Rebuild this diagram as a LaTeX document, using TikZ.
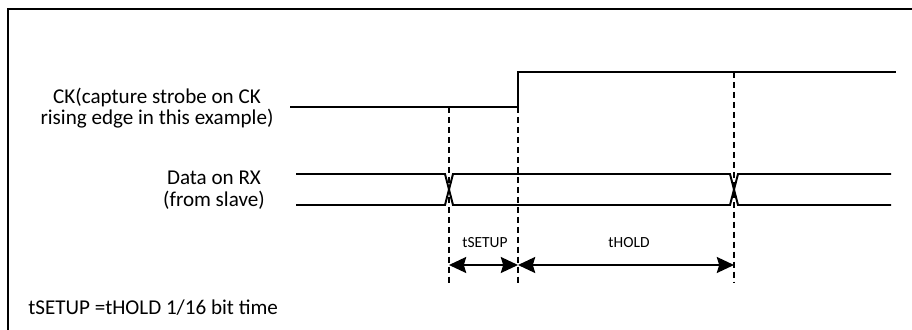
\documentclass[tikz,border=0pt]{standalone}
\usepackage{fontspec}
\setmainfont{Carlito}
\usetikzlibrary{arrows.meta}
\begin{document}
\begin{tikzpicture}[>={Stealth[length=4.3mm,width=4mm,inset=0.6mm]},
	  sig/.style={line width=1.4pt},
	  guide/.style={line width=1.2pt,dash pattern=on 4.3pt off 2.8pt},
	  txt/.style={font=\fontsize{15}{15.3}\selectfont,align=center,inner sep=0pt},
	  small/.style={font=\fontsize{11}{13}\selectfont,inner sep=0pt}]
	  \useasboundingbox (0,0) rectangle (22.8,-8.225);
	  \draw[line width=1.3pt] (0.2,-8.4) -- (0.2,-0.225) -- (23,-0.225);
	  % labels
	  \node[txt] (ck) at (3.925,-2.7) {CK(capture strobe on CK\\rising edge in this example)};
	  \node[txt] (rx) at (5.35,-4.75) {Data on RX\\(from slave)};
	  \node[txt,anchor=west] (note) at (0.7,-7.7) {tSETUP =tHOLD 1/16 bit time};
	  % clock
	  \coordinate (c0) at (7.25,-2.675);
	  \coordinate (c1) at (12.95,-2.675);
	  \coordinate (c2) at (12.95,-1.8);
	  \coordinate (c3) at (22.4,-1.8);
	  \draw[sig] (c0) -- (c1) -- (c2) -- (c3);
	  % data
	  \draw[sig] (7.4,-4.35) -- (11.125,-4.35) -- (11.325,-5.125) -- (18.25,-5.125) -- (18.45,-4.35) -- (22.275,-4.35);
	  \draw[sig] (7.4,-5.125) -- (11.125,-5.125) -- (11.325,-4.35) -- (18.25,-4.35) -- (18.45,-5.125) -- (22.275,-5.125);
	  % guides
	  \coordinate (g1) at (11.225,-2.675);
	  \coordinate (g1b) at (11.225,-7.1);
	  \coordinate (g2b) at (12.95,-7.125);
	  \coordinate (g3) at (18.35,-1.8);
	  \coordinate (g3b) at (18.35,-7.05);
	  \draw[guide] (g1) -- (g1b);
	  \draw[guide] (c1) -- (g2b);
	  \draw[guide] (g3) -- (g3b);
	  % timing
	  \coordinate (a1) at (11.225,-6.625);
	  \coordinate (a2) at (12.95,-6.625);
	  \coordinate (a3) at (18.35,-6.625);
	  \draw[sig,<->] (a1) -- (a2);
	  \draw[sig,<->] (a2) -- (a3);
	  \node[small] (ts) at (12.125,-6.075) {tSETUP};
	  \node[small] (th) at (15.725,-6.075) {tHOLD};
	\end{tikzpicture}
\end{document}
